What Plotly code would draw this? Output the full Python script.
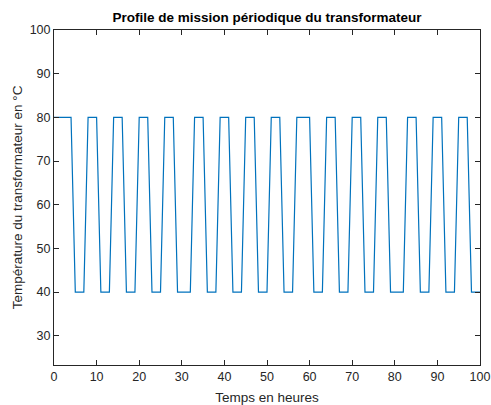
import plotly.graph_objects as go

# Hourly samples of the periodic mission profile (hours, °C)
hours = list(range(0, 101))
temperature = [
    80, 80, 80, 80, 80,
    40, 40, 40,
    80, 80, 80,
    40, 40, 40,
    80, 80, 80,
    40, 40, 40,
    80, 80, 80,
    40, 40, 40,
    80, 80, 80,
    40, 40, 40, 40,
    80, 80, 80,
    40, 40, 40,
    80, 80, 80,
    40, 40, 40,
    80, 80, 80,
    40, 40, 40,
    80, 80, 80,
    40, 40, 40,
    80, 80, 80, 80,
    40, 40, 40,
    80, 80, 80,
    40, 40, 40,
    80, 80, 80,
    40, 40, 40,
    80, 80, 80,
    40, 40, 40, 40,
    80, 80, 80,
    40, 40, 40,
    80, 80, 80,
    40, 40, 40,
    80, 80, 80,
    40, 40, 40,
]

x_ticks = [0, 10, 20, 30, 40, 50, 60, 70, 80, 90, 100]
y_ticks = [30, 40, 50, 60, 70, 80, 90, 100]

title_text = "Profile de mission périodique du transformateur"
x_label = "Temps en heures"
y_label = "Température du transformateur en °C"

axis_color = "#262626"
font_family = "Liberation Sans, Arial, sans-serif"

fig = go.Figure()
fig.add_trace(go.Scatter(
    x=hours, y=temperature, mode="lines",
    line=dict(color="#0072BD", width=1.2),
    showlegend=False,
))

common_axis = dict(
    showgrid=False, zeroline=False, automargin=False,
    showline=True, linecolor=axis_color, linewidth=1,
    mirror="ticks", ticks="inside", ticklen=5, tickwidth=1,
    tickcolor=axis_color,
    tickfont=dict(family=font_family, size=12.5, color=axis_color),
)

fig.update_layout(
    width=491, height=405,
    margin=dict(l=54, r=11, t=30, b=40),
    paper_bgcolor="white", plot_bgcolor="white",
    title=dict(
        text="<b>" + title_text + "</b>",
        x=0.5, xanchor="center", xref="paper",
        y=1 - 17 / 405, yanchor="middle",
        font=dict(family=font_family, size=13.5, color="black"),
    ),
    xaxis=dict(
        range=[0, 100], tickvals=x_ticks,
        title=dict(text=x_label, standoff=9,
                   font=dict(family=font_family, size=13.5, color=axis_color)),
        **common_axis,
    ),
    yaxis=dict(
        range=[23.3, 100], tickvals=y_ticks,
        title=dict(text=y_label, standoff=3,
                   font=dict(family=font_family, size=13.5, color=axis_color)),
        **common_axis,
    ),
)

fig.write_html("out.html")
